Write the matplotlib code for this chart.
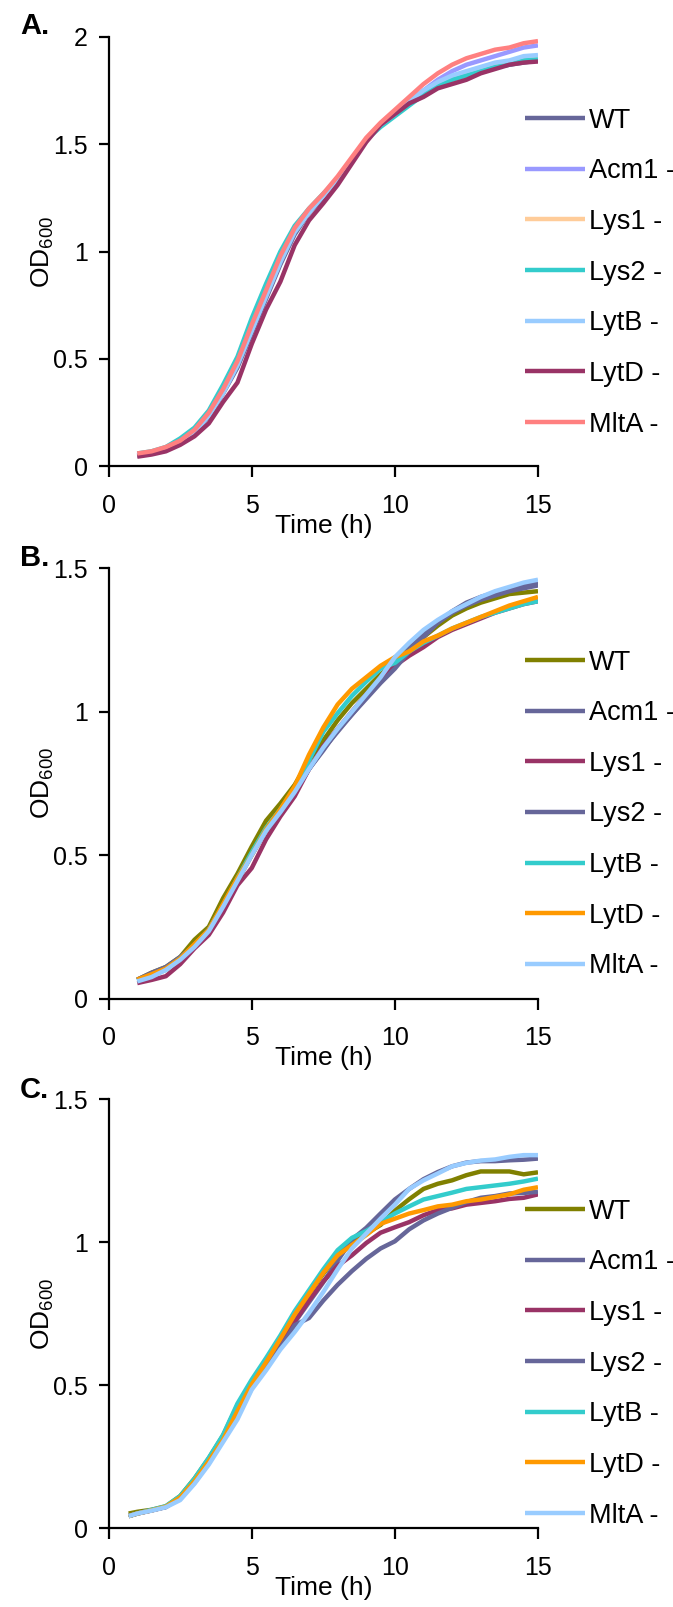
import matplotlib
matplotlib.use("Agg")
import matplotlib.pyplot as plt

# -----------------------------
# Data
# -----------------------------
strains = ["WT", "Acm1 -", "Lys1 -", "Lys2 -", "LytB -", "LytD -", "MltA -"]

time_ab = [1, 1.5, 2, 2.5, 3, 3.5, 4, 4.5, 5, 5.5, 6, 6.5, 7, 7.5, 8, 8.5, 9,
           9.5, 10, 10.5, 11, 11.5, 12, 12.5, 13, 13.5, 14, 14.5, 15]
time_c = [0.7] + time_ab

# panel A
a_wt   = [0.05, 0.06, 0.08, 0.11, 0.16, 0.23, 0.34, 0.46, 0.62, 0.78, 0.94, 1.08, 1.18, 1.25, 1.33, 1.42, 1.52, 1.59, 1.64, 1.69, 1.73, 1.77, 1.80, 1.82, 1.84, 1.86, 1.87, 1.88, 1.89]
a_acm1 = [0.05, 0.065, 0.085, 0.115, 0.165, 0.24, 0.35, 0.48, 0.64, 0.80, 0.96, 1.10, 1.19, 1.26, 1.34, 1.43, 1.52, 1.59, 1.65, 1.70, 1.75, 1.80, 1.84, 1.87, 1.89, 1.91, 1.93, 1.95, 1.96]
a_lys1 = [0.055, 0.065, 0.085, 0.115, 0.165, 0.24, 0.35, 0.48, 0.64, 0.80, 0.96, 1.10, 1.19, 1.26, 1.34, 1.43, 1.52, 1.59, 1.645, 1.70, 1.74, 1.77, 1.80, 1.82, 1.85, 1.87, 1.88, 1.89, 1.90]
a_lys2 = [0.06, 0.07, 0.09, 0.13, 0.18, 0.26, 0.38, 0.51, 0.69, 0.85, 1.00, 1.12, 1.20, 1.27, 1.34, 1.43, 1.52, 1.58, 1.63, 1.68, 1.73, 1.77, 1.80, 1.82, 1.84, 1.86, 1.87, 1.89, 1.895]
a_lytb = [0.055, 0.065, 0.085, 0.115, 0.16, 0.235, 0.34, 0.47, 0.63, 0.79, 0.95, 1.09, 1.18, 1.26, 1.34, 1.43, 1.52, 1.59, 1.64, 1.70, 1.75, 1.79, 1.82, 1.84, 1.86, 1.88, 1.89, 1.91, 1.915]
a_lytd = [0.045, 0.055, 0.07, 0.10, 0.14, 0.20, 0.30, 0.39, 0.57, 0.73, 0.86, 1.03, 1.145, 1.225, 1.31, 1.41, 1.51, 1.59, 1.64, 1.69, 1.72, 1.76, 1.78, 1.80, 1.83, 1.85, 1.87, 1.88, 1.885]
a_mlta = [0.06, 0.07, 0.09, 0.12, 0.17, 0.25, 0.36, 0.49, 0.66, 0.82, 0.98, 1.11, 1.20, 1.27, 1.35, 1.44, 1.53, 1.60, 1.66, 1.72, 1.78, 1.83, 1.87, 1.90, 1.92, 1.94, 1.95, 1.97, 1.98]

# panel B
b_wt   = [0.066, 0.09, 0.11, 0.145, 0.205, 0.25, 0.35, 0.435, 0.53, 0.62, 0.68, 0.745, 0.83, 0.90, 0.97, 1.03, 1.08, 1.13, 1.17, 1.22, 1.26, 1.30, 1.335, 1.36, 1.38, 1.395, 1.41, 1.415, 1.42]
b_acm1 = [0.065, 0.085, 0.105, 0.14, 0.185, 0.24, 0.325, 0.415, 0.505, 0.59, 0.655, 0.72, 0.80, 0.87, 0.93, 0.99, 1.05, 1.11, 1.16, 1.22, 1.27, 1.31, 1.35, 1.38, 1.40, 1.415, 1.43, 1.44, 1.45]
b_lys1 = [0.054, 0.065, 0.078, 0.12, 0.175, 0.222, 0.30, 0.395, 0.455, 0.555, 0.635, 0.705, 0.80, 0.88, 0.94, 1.00, 1.06, 1.11, 1.16, 1.195, 1.225, 1.26, 1.285, 1.305, 1.325, 1.345, 1.36, 1.375, 1.385]
b_lys2 = [0.066, 0.09, 0.11, 0.145, 0.185, 0.24, 0.325, 0.41, 0.50, 0.585, 0.65, 0.72, 0.80, 0.865, 0.935, 0.99, 1.045, 1.10, 1.15, 1.21, 1.26, 1.31, 1.345, 1.37, 1.39, 1.405, 1.42, 1.43, 1.44]
b_lytb = [0.062, 0.08, 0.10, 0.14, 0.185, 0.24, 0.325, 0.42, 0.51, 0.595, 0.66, 0.73, 0.83, 0.93, 0.995, 1.055, 1.105, 1.15, 1.17, 1.21, 1.24, 1.265, 1.29, 1.31, 1.33, 1.345, 1.36, 1.375, 1.385]
b_lytd = [0.066, 0.085, 0.105, 0.14, 0.19, 0.24, 0.33, 0.42, 0.50, 0.59, 0.66, 0.74, 0.85, 0.945, 1.025, 1.08, 1.12, 1.16, 1.19, 1.21, 1.245, 1.265, 1.29, 1.31, 1.33, 1.35, 1.37, 1.385, 1.40]
b_mlta = [0.06, 0.075, 0.10, 0.135, 0.18, 0.235, 0.32, 0.41, 0.50, 0.585, 0.65, 0.72, 0.80, 0.875, 0.94, 1.00, 1.06, 1.12, 1.19, 1.24, 1.285, 1.32, 1.35, 1.375, 1.40, 1.42, 1.435, 1.45, 1.46]

# panel C
c_wt   = [0.052, 0.058, 0.065, 0.077, 0.113, 0.174, 0.245, 0.325, 0.43, 0.51, 0.59, 0.665, 0.75, 0.82, 0.89, 0.955, 1.005, 1.03, 1.06, 1.11, 1.15, 1.186, 1.204, 1.216, 1.234, 1.247, 1.247, 1.247, 1.237, 1.244]
c_acm1 = [0.043, 0.052, 0.063, 0.075, 0.11, 0.165, 0.235, 0.31, 0.41, 0.495, 0.565, 0.635, 0.72, 0.79, 0.86, 0.935, 1.009, 1.05, 1.10, 1.149, 1.186, 1.22, 1.245, 1.265, 1.278, 1.283, 1.283, 1.286, 1.288, 1.292]
c_lys1 = [0.043, 0.052, 0.063, 0.075, 0.108, 0.16, 0.23, 0.31, 0.40, 0.49, 0.57, 0.643, 0.722, 0.796, 0.863, 0.917, 0.954, 0.997, 1.033, 1.052, 1.07, 1.094, 1.112, 1.118, 1.131, 1.137, 1.143, 1.151, 1.155, 1.167]
c_lys2 = [0.043, 0.052, 0.063, 0.075, 0.108, 0.16, 0.23, 0.31, 0.40, 0.49, 0.564, 0.631, 0.71, 0.735, 0.796, 0.851, 0.899, 0.942, 0.978, 1.003, 1.045, 1.076, 1.10, 1.12, 1.14, 1.155, 1.161, 1.17, 1.172, 1.176]
c_lytb = [0.043, 0.052, 0.065, 0.078, 0.113, 0.174, 0.247, 0.327, 0.436, 0.52, 0.595, 0.674, 0.759, 0.832, 0.905, 0.972, 1.015, 1.039, 1.07, 1.10, 1.125, 1.149, 1.161, 1.173, 1.186, 1.192, 1.198, 1.204, 1.212, 1.222]
c_lytd = [0.043, 0.052, 0.063, 0.076, 0.108, 0.165, 0.235, 0.31, 0.41, 0.503, 0.58, 0.662, 0.747, 0.82, 0.893, 0.954, 0.99, 1.025, 1.064, 1.082, 1.10, 1.112, 1.125, 1.131, 1.143, 1.149, 1.158, 1.167, 1.183, 1.192]
c_mlta = [0.043, 0.052, 0.062, 0.074, 0.099, 0.156, 0.223, 0.302, 0.381, 0.485, 0.552, 0.625, 0.686, 0.753, 0.826, 0.905, 0.978, 1.03, 1.082, 1.131, 1.186, 1.216, 1.24, 1.265, 1.277, 1.285, 1.289, 1.298, 1.304, 1.304]

x_ticks = [0, 5, 10, 15]
y_ticks_a = [0, 0.5, 1, 1.5, 2]
y_labels_a = ["0", "0.5", "1", "1.5", "2"]
y_ticks_bc = [0, 0.5, 1, 1.5]
y_labels_bc = ["0", "0.5", "1", "1.5"]

# Excel-style colours
colors_a = ["#666699", "#9999FF", "#FFCC99", "#33CCCC", "#99CCFF", "#993366", "#FF8080"]
colors_bc = ["#808000", "#666699", "#993366", "#666699", "#33CCCC", "#FF9900", "#99CCFF"]

plt.rcParams.update({
    "font.family": ["Liberation Sans", "DejaVu Sans"],
    "font.size": 19,
    "mathtext.fontset": "custom",
    "mathtext.rm": "Liberation Sans",
    "mathtext.it": "Liberation Sans:italic",
    "mathtext.default": "rm",
})

fig = plt.figure(figsize=(6.73, 16.07), dpi=100)


def draw_panel(rect, t, series, colors, ylim, yticks, ylabels, tag, tag_y, leg_top):
    ax = fig.add_axes(rect)
    for ys, col, name in zip(series, colors, strains):
        ax.plot(t, ys, color=col, lw=3.2, label=name, solid_capstyle="butt")
    ax.set_xlim(0, 15)
    ax.set_ylim(*ylim)
    ax.set_xticks(x_ticks)
    ax.set_xticklabels([str(v) for v in x_ticks])
    ax.set_yticks(yticks)
    ax.set_yticklabels(ylabels)
    for s in ["top", "right"]:
        ax.spines[s].set_visible(False)
    for s in ["left", "bottom"]:
        ax.spines[s].set_linewidth(1.6)
    ax.tick_params(axis="y", length=7, width=1.6, pad=8, labelsize=18)
    ax.tick_params(axis="x", length=8, width=1.6, pad=12, labelsize=18)
    ax.set_xlabel("Time (h)", labelpad=-3)
    ax.set_ylabel("OD$_{600}$", labelpad=2)
    ax.yaxis.set_label_coords(-0.122, 0.5)
    fig.text(0.03, tag_y, tag, fontsize=21, fontweight="bold", va="center")
    ax.legend(loc="upper left", bbox_to_anchor=(0.7800, leg_top),
              bbox_transform=fig.transFigure, frameon=False,
              borderpad=0, borderaxespad=0, handlelength=2.2,
              handletextpad=0.15, labelspacing=0.91, fontsize=19.5)
    return ax


draw_panel([0.1614, 0.7098, 0.6380, 0.2673], time_ab,
           [a_wt, a_acm1, a_lys1, a_lys2, a_lytb, a_lytd, a_mlta],
           colors_a, (0, 2), y_ticks_a, y_labels_a, "A.", 0.984, 0.9330)
draw_panel([0.1614, 0.3786, 0.6380, 0.2678], time_ab,
           [b_wt, b_acm1, b_lys1, b_lys2, b_lytb, b_lytd, b_mlta],
           colors_bc, (0, 1.5), y_ticks_bc, y_labels_bc, "B.", 0.653, 0.5958)
draw_panel([0.1614, 0.0489, 0.6380, 0.2672], time_c,
           [c_wt, c_acm1, c_lys1, c_lys2, c_lytb, c_lytd, c_mlta],
           colors_bc, (0, 1.5), y_ticks_bc, y_labels_bc, "C.", 0.3215, 0.2541)

fig.savefig("out.png", dpi=100)
